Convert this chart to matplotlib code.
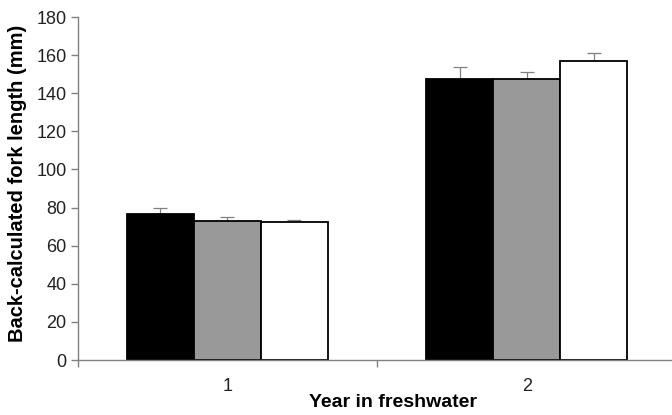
import matplotlib
matplotlib.use("Agg")
import matplotlib.pyplot as plt
import numpy as np

plt.rcParams['font.family'] = ['Liberation Sans', 'DejaVu Sans']

categories = ['1', '2']
series_black = [76.5, 147.3]
series_gray = [73.1, 147.3]
series_white = [72.2, 156.9]
err_black = [3.2, 6.4]
err_gray = [1.8, 4.0]
err_white = [1.2, 4.0]
yticks = [0, 20, 40, 60, 80, 100, 120, 140, 160, 180]

W, H = 672, 415
fig = plt.figure(figsize=(W / 100, H / 100), dpi=100)
left = 77.5 / W
bottom = 1 - 360 / H
top = 1 - 17 / H
ax = fig.add_axes([left, bottom, 599.0 / W, top - bottom])

x = np.arange(len(categories))
w = 0.2237
axis_gray = '#808080'
ekw = dict(ecolor=axis_gray, elinewidth=0.9, capsize=5, capthick=0.9)

for off, vals, errs, col in [(-w, series_black, err_black, 'black'),
                              (0, series_gray, err_gray, '#999999'),
                              (w, series_white, err_white, 'white')]:
    ax.bar(x + off, vals, width=w, color=col, edgecolor='black', linewidth=1.3,
           zorder=2)
    ax.errorbar(x + off, vals, yerr=[np.zeros(len(errs)), errs], fmt='none',
                zorder=1, **ekw)

ax.set_xlim(-0.5, len(categories) - 0.5)
ax.set_ylim(0, 180)
ax.set_yticks(yticks)
ax.set_xticks(x)
ax.set_xticklabels(categories)
ax.set_xticks(np.arange(len(categories) + 1) - 0.5, minor=True)
ax.tick_params(axis='x', which='major', length=0, pad=13, labelsize=13)
ax.tick_params(axis='x', which='minor', length=5, color=axis_gray, width=1)
ax.tick_params(axis='y', length=5, color=axis_gray, width=1, labelsize=13,
               pad=3, labelcolor='#222222')
ax.tick_params(axis='x', labelcolor='#222222')

for s in ['top', 'right']:
    ax.spines[s].set_visible(False)
for s in ['left', 'bottom']:
    ax.spines[s].set_color(axis_gray)
    ax.spines[s].set_linewidth(1)
ax.spines['bottom'].set_zorder(3)

ax.set_ylabel('Back-calculated fork length (mm)', fontsize=14.5, fontweight='bold')
ax.yaxis.set_label_coords(-0.084, 0.516)
ax.set_xlabel('Year in freshwater', fontsize=14, fontweight='bold')
ax.xaxis.set_label_coords(0.527, -0.1)
ax.xaxis.label.set_va('top')

fig.savefig('out.png', dpi=100)
